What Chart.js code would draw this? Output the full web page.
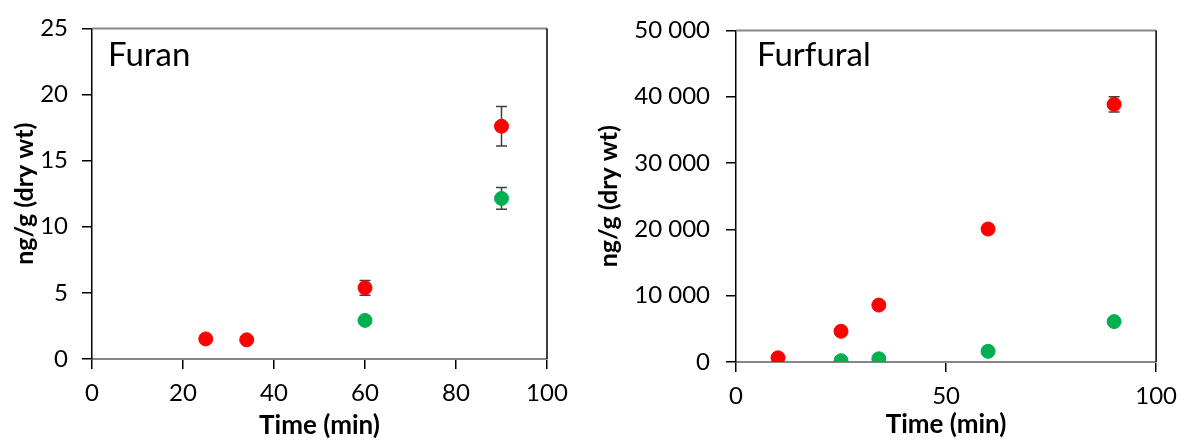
<!DOCTYPE html>
<html>
<head>
<meta charset="utf-8">
<script src="https://cdn.jsdelivr.net/npm/chart.js@4"></script>
<style>
  html, body { margin: 0; padding: 0; background: #fff; }
  .wrap { position: absolute; top: 0; height: 441px; }
  #left { left: 0; width: 590px; }
  #right { left: 590px; width: 597px; }
</style>
</head>
<body>
<div class="wrap" id="left"><canvas id="furanChart"></canvas></div>
<div class="wrap" id="right"><canvas id="furfuralChart"></canvas></div>
<script>
// Furan (ng/g dry wt)
const furanRedX = [25, 34, 60, 90];
const furanRedY = [1.52, 1.45, 5.38, 17.6];
const furanRedErr = [0, 0, 0.55, 1.5];
const furanGreenX = [60, 90];
const furanGreenY = [2.92, 12.14];
const furanGreenErr = [0, 0.82];

// Furfural (ng/g dry wt)
const furfuralRedX = [10, 25, 34, 60, 90];
const furfuralRedY = [630, 4630, 8580, 20050, 38850];
const furfuralRedErr = [0, 0, 0, 0, 1150];
const furfuralGreenX = [25, 34, 60, 90];
const furfuralGreenY = [200, 490, 1610, 6090];
const furfuralGreenErr = [0, 0, 0, 0];

const RED = '#ff0000';
const GREEN = '#00b050';
const FONT = 'Lato, Carlito, Calibri, sans-serif';

function points(xs, ys) {
    return xs.map((x, i) => ({ x: x, y: ys[i] }));
}

function spaced(v) {
    return String(v).replace(/\B(?=(\d{3})+(?!\d))/g, ' ');
}

const errorBars = {
    id: 'errorBars',
    beforeDatasetsDraw(chart) {
        const ctx = chart.ctx;
        const xs = chart.scales.x, ys = chart.scales.y;
        ctx.save();
        ctx.strokeStyle = '#404040';
        ctx.lineWidth = 1.5;
        chart.data.datasets.forEach(ds => {
            ds.data.forEach((p, i) => {
                const e = ds.errors[i];
                if (!e) return;
                const px = xs.getPixelForValue(p.x);
                const top = ys.getPixelForValue(p.y + e);
                const bot = ys.getPixelForValue(p.y - e);
                ctx.beginPath();
                ctx.moveTo(px, top); ctx.lineTo(px, bot);
                ctx.moveTo(px - 5.5, top); ctx.lineTo(px + 5.5, top);
                ctx.moveTo(px - 5.5, bot); ctx.lineTo(px + 5.5, bot);
                ctx.stroke();
            });
        });
        ctx.restore();
    }
};

const frame = {
    id: 'frame',
    afterDraw(chart, args, opts) {
        const a = chart.chartArea;
        const ctx = chart.ctx;
        ctx.save();
        ctx.lineWidth = 2;
        ctx.strokeStyle = '#868686';
        ctx.beginPath();
        ctx.moveTo(a.left, a.top); ctx.lineTo(a.right, a.top);
        ctx.stroke();
        ctx.lineWidth = 1.5;
        ctx.strokeStyle = '#000';
        ctx.beginPath();
        ctx.moveTo(a.right, a.top); ctx.lineTo(a.right, a.bottom);
        ctx.stroke();
        ctx.fillStyle = '#000';
        ctx.font = '33px ' + FONT;
        ctx.textBaseline = 'alphabetic';
        ctx.fillText(opts.label, a.left + opts.dx, 66);
        ctx.restore();
    }
};

function makeChart(id, cfg) {
    const ctx = document.getElementById(id).getContext('2d');
    return new Chart(ctx, {
        type: 'scatter',
        data: {
            datasets: [
                { data: points(cfg.redX, cfg.redY), errors: cfg.redErr, backgroundColor: RED, borderColor: RED, pointRadius: 7, pointHoverRadius: 7 },
                { data: points(cfg.greenX, cfg.greenY), errors: cfg.greenErr, backgroundColor: GREEN, borderColor: GREEN, pointRadius: 7, pointHoverRadius: 7 }
            ]
        },
        options: {
            responsive: true,
            maintainAspectRatio: false,
            animation: false,
            layout: { padding: { left: 0, top: cfg.top, right: cfg.right, bottom: 0 } },
            plugins: {
                legend: { display: false },
                tooltip: { enabled: false },
                frame: { label: cfg.label, dx: cfg.dx }
            },
            scales: {
                x: {
                    min: 0, max: 100,
                    ticks: { stepSize: cfg.xStep, color: '#000', padding: 10, font: { family: FONT, size: 24 }, maxRotation: 0 },
                    grid: { drawOnChartArea: false, tickLength: 10, color: '#000', lineWidth: 1.5 },
                    border: { color: '#868686', width: 2 },
                    title: { display: true, text: 'Time (min)', color: '#000', font: { family: FONT, size: 26, weight: 'bold' }, padding: { top: 0, bottom: cfg.xTitlePad } },
                    afterFit: s => { s.height = cfg.xHeight; }
                },
                y: {
                    min: 0, max: cfg.yMax,
                    ticks: { stepSize: cfg.yStep, color: '#000', padding: cfg.yPad, font: { family: FONT, size: 24 }, callback: v => spaced(v) },
                    grid: { drawOnChartArea: false, tickLength: 10, color: '#000', lineWidth: 1.5 },
                    border: { color: '#000', width: 1.5 },
                    title: { display: true, text: 'ng/g (dry wt)', color: '#000', font: { family: FONT, size: 25, weight: 'bold' }, padding: { top: cfg.yTitlePad, bottom: 0 } },
                    afterFit: s => { s.width = cfg.yWidth; }
                }
            }
        },
        plugins: [errorBars, frame]
    });
}

makeChart('furanChart', {
    redX: furanRedX, redY: furanRedY, redErr: furanRedErr,
    greenX: furanGreenX, greenY: furanGreenY, greenErr: furanGreenErr,
    label: 'Furan', dx: 16,
    xStep: 20, yMax: 25, yStep: 5,
    top: 19, right: 43, xHeight: 82, yWidth: 92, yPad: 14,
    xTitlePad: 0, yTitlePad: 10
});

makeChart('furfuralChart', {
    redX: furfuralRedX, redY: furfuralRedY, redErr: furfuralRedErr,
    greenX: furfuralGreenX, greenY: furfuralGreenY, greenErr: furfuralGreenErr,
    label: 'Furfural', dx: 21,
    xStep: 50, yMax: 50000, yStep: 10000,
    top: 20, right: 28, xHeight: 79, yWidth: 146, yPad: 16,
    xTitlePad: 1, yTitlePad: 4
});
</script>
</body>
</html>
